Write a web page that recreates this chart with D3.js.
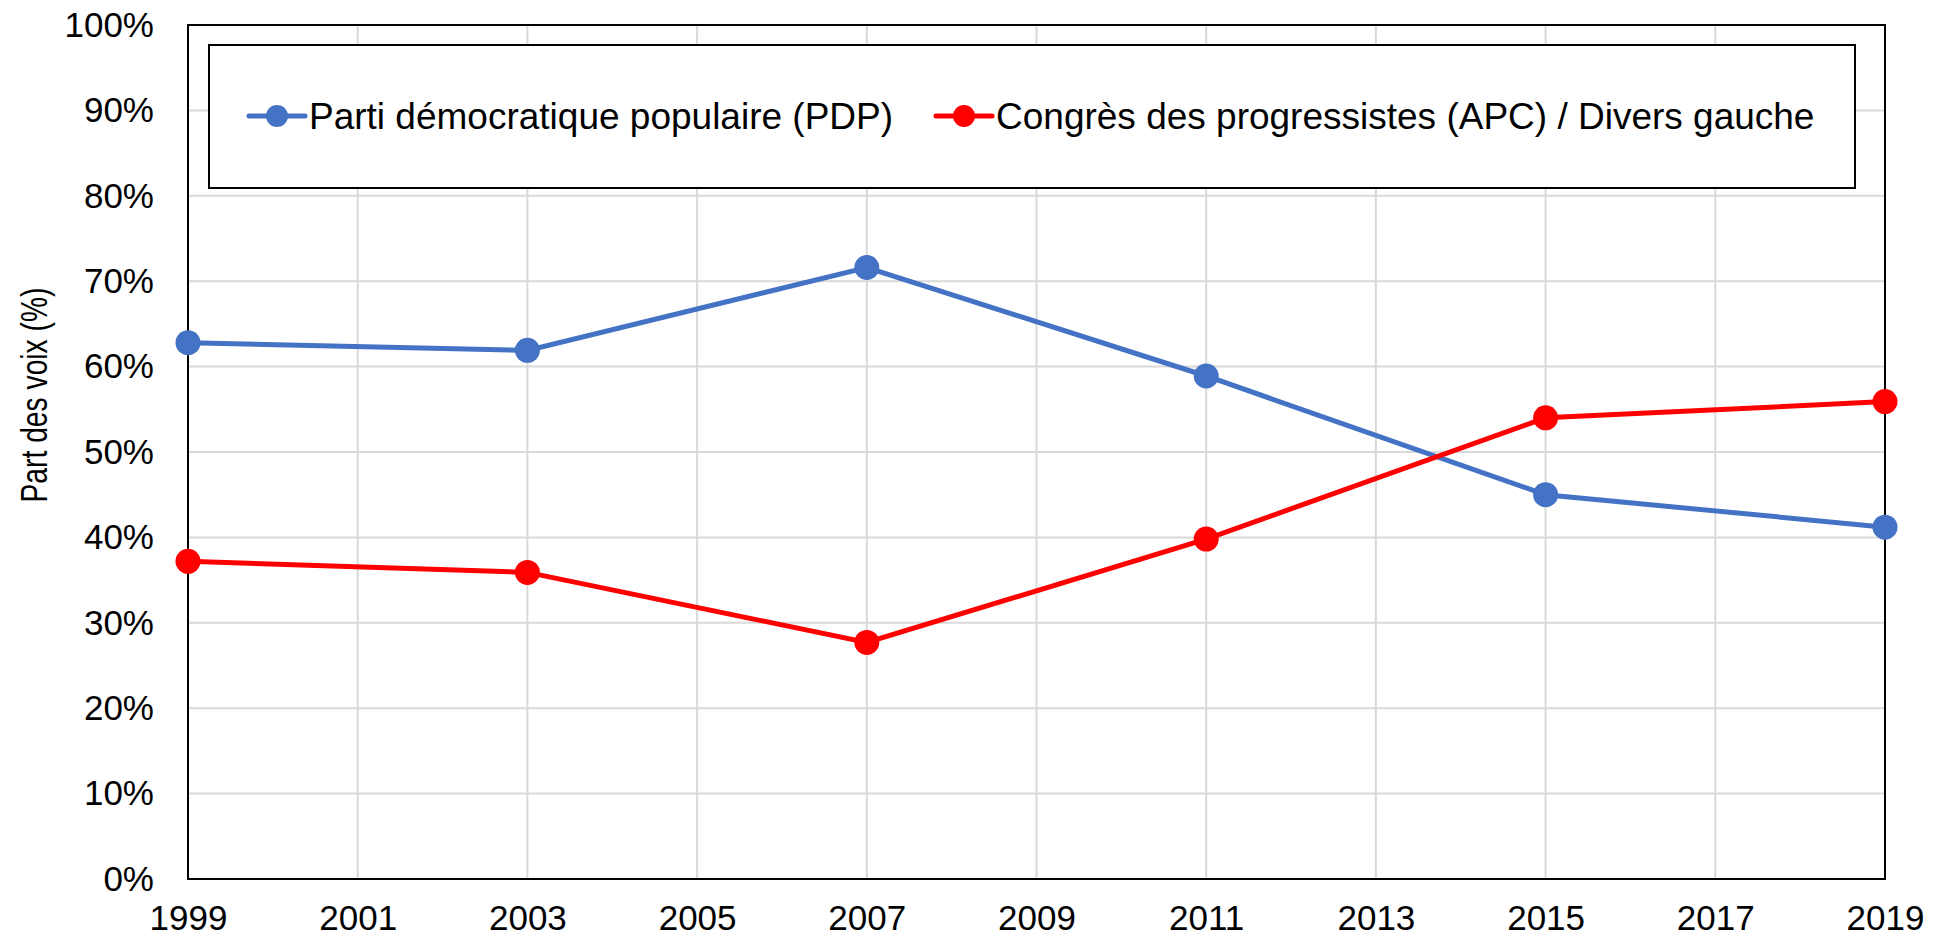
<!DOCTYPE html>
<html>
<head>
<meta charset="utf-8">
<script src="https://cdn.jsdelivr.net/npm/d3@7"></script>
<style>
  body { margin: 0; background: #fff; }
  svg { font-family: "Liberation Sans", Arial, sans-serif; }
</style>
</head>
<body>
<svg id="chart"></svg>
<script>
const years = [1999, 2003, 2007, 2011, 2015, 2019];
const pdpValues = [62.8, 61.9, 71.6, 58.9, 45.0, 41.2];
const apcValues = [37.2, 35.9, 27.7, 39.8, 54.0, 55.9];
const xTicks = [1999, 2001, 2003, 2005, 2007, 2009, 2011, 2013, 2015, 2017, 2019];
const yTicks = [0, 10, 20, 30, 40, 50, 60, 70, 80, 90, 100];
const seriesNames = ["Parti démocratique populaire (PDP)", "Congrès des progressistes (APC) / Divers gauche"];
const yTitle = "Part des voix (%)";

const width = 1948, height = 940;
const margin = {left: 188, right: 63, top: 25, bottom: 61};

const svg = d3.select("#chart")
  .attr("width", width)
  .attr("height", height);

// scales
const x = d3.scaleLinear()
  .domain([1999, 2019])
  .range([margin.left, width - margin.right]);

const y = d3.scaleLinear()
  .domain([0, 100])
  .range([height - margin.bottom, margin.top]);

// grid lines
svg.append("g")
  .selectAll("line")
  .data(xTicks)
  .enter().append("line")
  .attr("x1", d => x(d)).attr("x2", d => x(d))
  .attr("y1", y(0)).attr("y2", y(100))
  .attr("stroke", "#d9d9d9").attr("stroke-width", 2);

svg.append("g")
  .selectAll("line")
  .data(yTicks)
  .enter().append("line")
  .attr("x1", x(1999)).attr("x2", x(2019))
  .attr("y1", d => y(d)).attr("y2", d => y(d))
  .attr("stroke", "#d9d9d9").attr("stroke-width", 2);

// plot border
svg.append("rect")
  .attr("x", x(1999)).attr("y", y(100))
  .attr("width", x(2019) - x(1999))
  .attr("height", y(0) - y(100))
  .attr("fill", "none")
  .attr("stroke", "#000").attr("stroke-width", 2);

// axes
const xAxis = d3.axisBottom(x).tickValues(xTicks).tickFormat(d3.format("d")).tickSize(0).tickPadding(26);
const yAxis = d3.axisLeft(y).tickValues(yTicks).tickFormat(d => d + "%").tickSize(0).tickPadding(34);

const gx = svg.append("g")
  .attr("transform", `translate(0, ${y(0)})`)
  .call(xAxis);
gx.select(".domain").remove();
gx.selectAll("text").attr("font-size", 35).attr("fill", "#000").attr("font-family", "Liberation Sans, Arial, sans-serif");

const gy = svg.append("g")
  .attr("transform", `translate(${x(1999)}, 0)`)
  .call(yAxis);
gy.select(".domain").remove();
gy.selectAll("text").attr("font-size", 35).attr("fill", "#000").attr("font-family", "Liberation Sans, Arial, sans-serif");

// y axis title (condensed like the original)
svg.append("text")
  .attr("transform", "translate(47, 395) rotate(-90)")
  .attr("text-anchor", "middle")
  .attr("font-size", 36)
  .attr("textLength", 215)
  .attr("lengthAdjust", "spacingAndGlyphs")
  .text(yTitle);

// lines
const line = d3.line()
  .x((d, i) => x(years[i]))
  .y(d => y(d));

const series = [
  {name: seriesNames[0], values: pdpValues, color: "#4472C4"},
  {name: seriesNames[1], values: apcValues, color: "#FF0000"}
];

series.forEach(s => {
  svg.append("path")
    .datum(s.values)
    .attr("d", line)
    .attr("fill", "none")
    .attr("stroke", s.color)
    .attr("stroke-width", 5);

  svg.append("g")
    .selectAll("circle")
    .data(s.values)
    .enter().append("circle")
    .attr("cx", (d, i) => x(years[i]))
    .attr("cy", d => y(d))
    .attr("r", 12.5)
    .attr("fill", s.color);
});

// legend
const legend = svg.append("g");
legend.append("rect")
  .attr("x", 209).attr("y", 45)
  .attr("width", 1646).attr("height", 143)
  .attr("fill", "#fff")
  .attr("stroke", "#000").attr("stroke-width", 2);

const legendItems = [
  {name: seriesNames[0], color: "#4472C4", x: 249},
  {name: seriesNames[1], color: "#FF0000", x: 936}
];

legendItems.forEach(item => {
  const g = legend.append("g").attr("transform", `translate(${item.x}, 116)`);
  g.append("line")
    .attr("x1", 0).attr("x2", 56)
    .attr("stroke", item.color).attr("stroke-width", 5)
    .attr("stroke-linecap", "round");
  g.append("circle")
    .attr("cx", 28).attr("r", 11)
    .attr("fill", item.color);
  g.append("text")
    .attr("x", 60).attr("dy", "0.35em")
    .attr("font-size", 37)
    .text(item.name);
});
</script>
</body>
</html>
